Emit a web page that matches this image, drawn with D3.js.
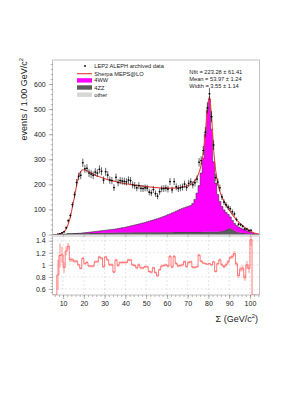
<!DOCTYPE html>
<html>
<head>
<meta charset="utf-8">
<script src="https://cdn.jsdelivr.net/npm/d3@7"></script>
<style>
  body { margin: 0; background: #fff; }
  text { font-family: "Liberation Sans", Arial, sans-serif; }
</style>
</head>
<body>
<div id="chart"></div>
<script>
var svgWidth = 305;
var svgHeight = 394;

// bins of 1 GeV/c2, lower edges 5 .. 104
var binLow = d3.range(5, 105);

var dataCounts = [0,0,1,3,7,11,27,55,76,119,
  159,207,232,236,286,262,264,245,241,236,
  249,245,260,252,217,250,237,217,215,187,
  228,207,215,213,212,210,217,215,198,195,
  186,195,184,183,186,185,169,166,179,163,
  153,171,182,183,185,181,211,178,211,190,
  183,186,189,201,187,204,210,198,206,221,
  288,295,335,408,505,561,470,357,227,209,
  186,150,129,118,109,103,91,82,60,41,
  39,33,22,22,16,17,0,0,0,0];

var sherpa = [0,0,1.2,2.6,6,11.5,22,42,70,110,
  150,195,232,251,258,257,254,250,246,241,
  237,233,230,227,224,221,219,217,215,213,
  211,209,207,205,204,202,201,199,198,197,
  196,195,194,193,192,191,190,189,188,187,
  187,186,186,185,185,185,185,185,185,186,
  187,188,189,191,193,196,200,206,215,228,
  248,278,325,400,500,550,470,340,255,205,
  172,150,133,118,104,92,80,69,59,50,
  42,35,28,22,17,12,8,5,3,1];

var ww = [0,0,0,0,0,0,0,0,0,0,
  0,0,1,1,1,2,3,4,4,5,
  6,7,8,8,9,10,11,12,13,14,
  14,16,17,19,20,22,24,26,28,29,
  31,33,35,37,39,42,44,47,49,52,
  54,57,60,63,66,70,73,77,79,83,
  87,91,94,97,100,103,106,114,130,155,
  185,235,294,389,484,529,409,279,194,149,
  120,99,83,70,58,45,35,29,25,22,
  19,16,13,11,8,6,5,3,2,1];

var zz = [0,0,0,0,1,1,1,2,2,2,
  3,3,3,3,4,4,4,4,5,5,
  5,5,5,6,6,6,6,6,6,6,
  7,7,7,7,7,7,7,7,7,8,
  8,8,8,8,8,8,8,8,8,8,
  8,8,8,8,8,8,8,8,9,9,
  9,9,9,9,9,9,9,9,9,9,
  9,9,10,10,10,10,10,10,10,10,
  11,12,14,17,21,24,20,14,10,7,
  6,5,4,3,3,2,1,1,0,0];

var other = [0,0,0,0,0,0,0,1,1,1,
  1,1,1,1,1,1,1,1,1,1,
  1,1,1,1,1,1,1,1,1,1,
  1,1,1,1,1,1,1,1,1,1,
  1,1,1,1,1,1,1,1,1,1,
  1,1,1,1,1,1,1,1,1,1,
  1,1,1,1,1,1,1,1,1,1,
  1,1,1,1,1,1,1,1,1,1,
  1,1,1,1,1,1,1,1,1,1,
  1,1,1,1,1,1,0,0,0,0];

var yTicks = [0, 100, 200, 300, 400, 500, 600];
var ratioTicks = [0.6, 0.8, 1, 1.2, 1.4];
var xTicks = [10, 20, 30, 40, 50, 60, 70, 80, 90, 100];

var legendLabels = ["LEP2 ALEPH archived data", "Sherpa MEPS@LO", "4WW", "4ZZ", "other"];
var statsLines = ["Nfit = 223.28 \u00b1  61.41", "Mean = 53.97 \u00b1  1.24", "Width = 3.55 \u00b1  1.14"];

var colors = { ww: "#ff00ff", zz: "#5c5c5c", other: "#d6d6d6", sherpa: "#e64545", ratio: "#ff5a5a", band: "#ffc4c4" };

// frame geometry
var left = 52.7, right = 259.3;
var topTop = 60, topBottom = 234.5;
var botTop = 236, botBottom = 295;

var svg = d3.select("#chart")
  .append("svg")
  .attr("width", svgWidth)
  .attr("height", svgHeight);

var xScale = d3.scaleLinear().domain([5, 104.5]).range([left, right]);
var yScale = d3.scaleLinear().domain([0, 696]).range([topBottom, topTop]);

svg.append("clipPath").attr("id", "clipTop")
  .append("rect").attr("x", left).attr("y", topTop).attr("width", right - left).attr("height", topBottom - topTop);
svg.append("clipPath").attr("id", "clipBot")
  .append("rect").attr("x", left).attr("y", botTop).attr("width", right - left).attr("height", botBottom - botTop);

// ---------- top pad ----------
var rows = binLow.map(function(lo, i) {
  return { lo: lo, other: other[i], zz: zz[i], ww: ww[i] };
});
var stacked = d3.stack().keys(["other", "zz", "ww"])(rows);

var topG = svg.append("g").attr("clip-path", "url(#clipTop)");

stacked.forEach(function(layer) {
  var pts = layer.map(function(d) { return { x: d.data.lo, y0: d[0], y1: d[1] }; });
  var last = pts[pts.length - 1];
  pts.push({ x: last.x + 1, y0: last.y0, y1: last.y1 });

  topG.append("path")
    .datum(pts)
    .attr("fill", colors[layer.key])
    .attr("d", d3.area().curve(d3.curveStepAfter)
      .x(d => xScale(d.x)).y0(d => yScale(d.y0)).y1(d => yScale(d.y1)));

  topG.append("path")
    .datum(pts)
    .attr("fill", "none")
    .attr("stroke", "#222")
    .attr("stroke-width", 0.5)
    .attr("d", d3.line().curve(d3.curveStepAfter)
      .x(d => xScale(d.x)).y(d => yScale(d.y1)));
});

// sherpa curve
topG.append("path")
  .datum(binLow.map((lo, i) => [lo + 0.5, sherpa[i]]))
  .attr("fill", "none")
  .attr("stroke", colors.sherpa)
  .attr("stroke-width", 1.1)
  .attr("d", d3.line().curve(d3.curveMonotoneX).x(d => xScale(d[0])).y(d => yScale(d[1])));

// data points
var pts = binLow.map((lo, i) => ({ lo: lo, n: dataCounts[i] })).filter(d => d.n > 0);
var dataG = topG.append("g").attr("stroke", "#000").attr("stroke-width", 0.6);
dataG.selectAll(".ev").data(pts).enter().append("line")
  .attr("x1", d => xScale(d.lo + 0.5)).attr("x2", d => xScale(d.lo + 0.5))
  .attr("y1", d => yScale(d.n - Math.sqrt(d.n))).attr("y2", d => yScale(d.n + Math.sqrt(d.n)));
dataG.selectAll(".eh").data(pts).enter().append("line")
  .attr("x1", d => xScale(d.lo)).attr("x2", d => xScale(d.lo + 1))
  .attr("y1", d => yScale(d.n)).attr("y2", d => yScale(d.n));
topG.selectAll("circle").data(pts).enter().append("circle")
  .attr("cx", d => xScale(d.lo + 0.5)).attr("cy", d => yScale(d.n))
  .attr("r", 0.8).attr("fill", "#000");

// frame + axes
svg.append("rect").attr("x", left).attr("y", topTop).attr("width", right - left).attr("height", topBottom - topTop)
  .attr("fill", "none").attr("stroke", "#999").attr("stroke-width", 0.6);

function styleAxis(g) {
  g.select(".domain").remove();
  g.selectAll("line").attr("stroke", "#777").attr("stroke-width", 0.5);
  g.selectAll("text").attr("font-size", "7px").attr("fill", "#222");
}

svg.append("g").attr("transform", `translate(${left},0)`)
  .call(d3.axisLeft(yScale).tickValues(yTicks).tickSize(4).tickPadding(3))
  .call(styleAxis);
svg.append("g").attr("transform", `translate(${left},0)`)
  .call(d3.axisLeft(yScale).tickValues(d3.range(0, 690, 20)).tickSize(2).tickFormat(""))
  .call(styleAxis);
svg.append("g").attr("transform", `translate(0,${topBottom})`)
  .call(d3.axisBottom(xScale).tickValues(xTicks).tickSize(2).tickFormat(""))
  .call(styleAxis);

svg.append("text")
  .attr("transform", `translate(26.5,${topTop - 2}) rotate(-90)`)
  .attr("text-anchor", "end")
  .attr("font-size", "9px")
  .attr("fill", "#222")
  .html('events / 1.00 GeV/c<tspan dy="-3.5" font-size="6px">2</tspan>');

// legend
var legG = svg.append("g");
var legY = [66, 73.7, 80.4, 87.5, 94.7];
legendLabels.forEach(function(lab, i) {
  legG.append("text").attr("x", 94.3).attr("y", legY[i] + 2).attr("font-size", "5.7px").attr("fill", "#222").text(lab);
});
legG.append("circle").attr("cx", 85).attr("cy", legY[0]).attr("r", 0.9).attr("fill", "#000");
legG.append("line").attr("x1", 77).attr("x2", 92).attr("y1", legY[1]).attr("y2", legY[1])
  .attr("stroke", colors.sherpa).attr("stroke-width", 1.2);
["ww", "zz", "other"].forEach(function(k, i) {
  legG.append("rect").attr("x", 77).attr("y", legY[i + 2] - 2.2).attr("width", 15).attr("height", 4.4)
    .attr("fill", colors[k]);
});

// stats text
statsLines.forEach(function(s, i) {
  svg.append("text").attr("x", 189.3).attr("y", 73.8 + i * 7).attr("font-size", "5.7px").attr("fill", "#222").text(s);
});

// ---------- ratio pad ----------
var rScale = d3.scaleLinear().domain([0.5, 1.478]).range([botBottom, botTop]).clamp(true);

var gridG = svg.append("g").attr("stroke", "#ccc").attr("stroke-width", 0.5).attr("stroke-dasharray", "2,2");
ratioTicks.forEach(function(t) {
  gridG.append("line").attr("x1", left).attr("x2", right).attr("y1", rScale(t)).attr("y2", rScale(t));
});
xTicks.forEach(function(t) {
  gridG.append("line").attr("x1", xScale(t)).attr("x2", xScale(t)).attr("y1", botTop).attr("y2", botBottom);
});

// ratio data / sherpa, band from the simulated sample statistics
var ratio = binLow.map(function(lo, i) {
  var r = sherpa[i] > 0 ? dataCounts[i] / sherpa[i] : 0;
  var e = dataCounts[i] > 0 ? 0.3 * r / Math.sqrt(dataCounts[i]) : 0;
  return { x: lo, r: r, e: e };
});
var lastR = ratio[ratio.length - 1];
var ratioPts = ratio.concat([{ x: lastR.x + 1, r: lastR.r, e: lastR.e }]);

var botG = svg.append("g").attr("clip-path", "url(#clipBot)");
botG.append("path").datum(ratioPts)
  .attr("fill", colors.band)
  .attr("d", d3.area().curve(d3.curveStepAfter)
    .x(d => xScale(d.x)).y0(d => rScale(d.r - d.e)).y1(d => rScale(d.r + d.e)));
botG.append("path").datum(ratioPts)
  .attr("fill", "none").attr("stroke", colors.ratio).attr("stroke-width", 0.8)
  .attr("d", d3.line().curve(d3.curveStepAfter).x(d => xScale(d.x)).y(d => rScale(d.r)));

svg.append("rect").attr("x", left).attr("y", botTop).attr("width", right - left).attr("height", botBottom - botTop)
  .attr("fill", "none").attr("stroke", "#999").attr("stroke-width", 0.6);

svg.append("g").attr("transform", `translate(${left},0)`)
  .call(d3.axisLeft(rScale).tickValues(ratioTicks).tickSize(4).tickPadding(3).tickFormat(d3.format("")))
  .call(styleAxis);
svg.append("g").attr("transform", `translate(${left},0)`)
  .call(d3.axisLeft(rScale).tickValues(d3.range(0.55, 1.46, 0.05)).tickSize(2).tickFormat(""))
  .call(styleAxis);
svg.append("g").attr("transform", `translate(0,${botBottom})`)
  .call(d3.axisBottom(xScale).tickValues(xTicks).tickSize(4).tickPadding(2))
  .call(styleAxis);
svg.append("g").attr("transform", `translate(0,${botBottom})`)
  .call(d3.axisBottom(xScale).tickValues(d3.range(6, 105, 2)).tickSize(2).tickFormat(""))
  .call(styleAxis);

svg.append("text")
  .attr("x", 258).attr("y", 321.5)
  .attr("text-anchor", "end")
  .attr("font-size", "9px")
  .attr("fill", "#222")
  .html('\u03a3 (GeV/c<tspan dy="-3.5" font-size="6px">2</tspan><tspan dy="3.5">)</tspan>');
</script>
</body>
</html>
